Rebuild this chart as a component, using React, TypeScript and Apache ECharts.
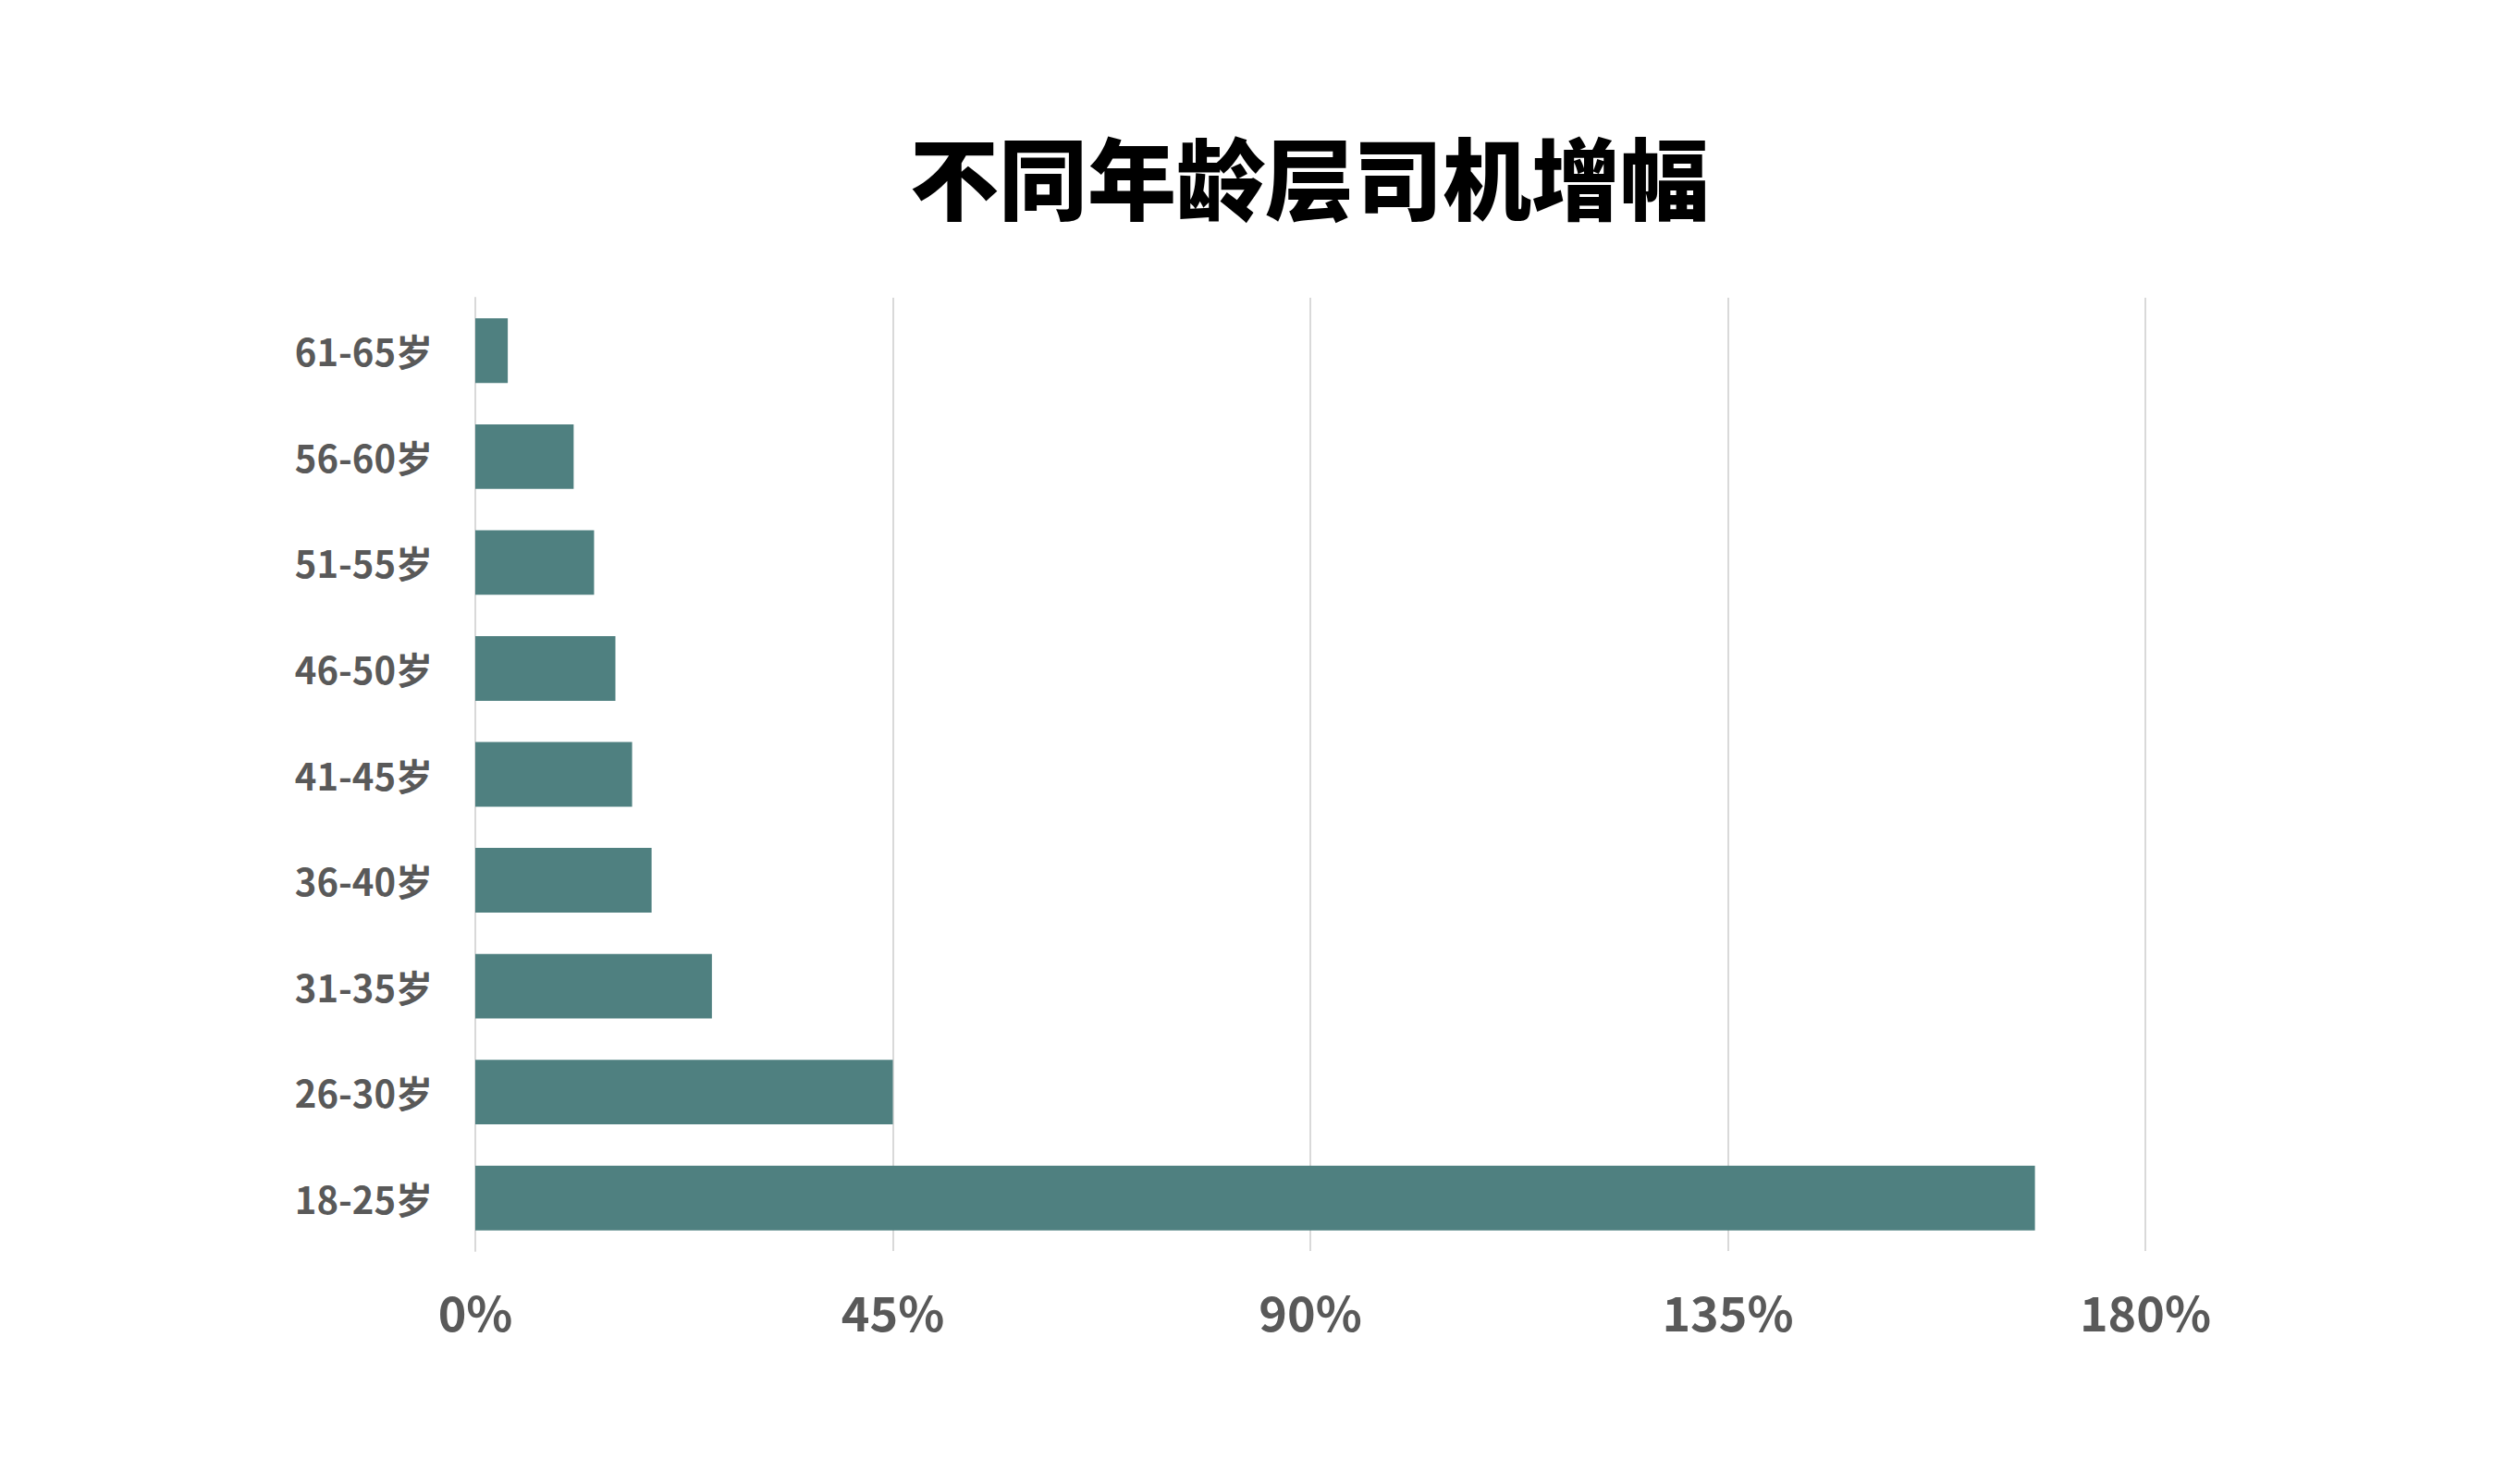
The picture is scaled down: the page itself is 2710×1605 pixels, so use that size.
import { useEffect, useRef } from "react";
import * as echarts from "echarts";

// Age bands, bottom → top as drawn on the category axis.
const AGE_GROUPS = ["18-25岁", "26-30岁", "31-35岁", "36-40岁", "41-45岁", "46-50岁", "51-55岁", "56-60岁", "61-65岁"];
// Growth in percent, same order as AGE_GROUPS.
const GROWTH = [168.1, 45, 25.5, 19.0, 16.9, 15.1, 12.8, 10.6, 3.5];
const TITLE = "不同年龄层司机增幅";

const FONT = '"Noto Sans CJK SC", "Noto Sans", sans-serif';
const INK = "#595959";
const GRID_LINE = "#d9d9d9";
const BAR = "#4f8080";

export default function App() {
  const boxRef = useRef<HTMLDivElement>(null);

  useEffect(() => {
    document.body.style.margin = "0";
    if (!boxRef.current) return;
    const chart = echarts.init(boxRef.current, undefined, { renderer: "svg" });
    chart.setOption({
      animation: false,
      backgroundColor: "#ffffff",
      title: {
        text: TITLE,
        left: 979,
        top: 135,
        textStyle: { fontFamily: FONT, fontSize: 96, fontWeight: 900, color: "#000000" },
      },
      grid: { left: 514, right: 390, top: 322, bottom: 252, containLabel: false },
      xAxis: {
        type: "value",
        min: 0,
        max: 180,
        interval: 45,
        axisLine: { show: false },
        axisTick: { show: false },
        splitLine: { lineStyle: { color: GRID_LINE, width: 2 } },
        axisLabel: {
          formatter: "{value}%",
          margin: 38,
          color: INK,
          fontFamily: FONT,
          fontSize: 52,
          fontWeight: "bold",
        },
      },
      yAxis: {
        type: "category",
        data: AGE_GROUPS,
        axisLine: { show: true, lineStyle: { color: GRID_LINE, width: 2 } },
        axisTick: { show: false },
        axisLabel: {
          margin: 46,
          color: INK,
          fontFamily: FONT,
          fontSize: 40,
          fontWeight: "bold",
        },
      },
      series: [
        {
          type: "bar",
          data: GROWTH,
          barCategoryGap: "39%",
          itemStyle: { color: BAR },
        },
      ],
    });
    return () => chart.dispose();
  }, []);

  return <div ref={boxRef} style={{ width: 2710, height: 1605 }} />;
}
